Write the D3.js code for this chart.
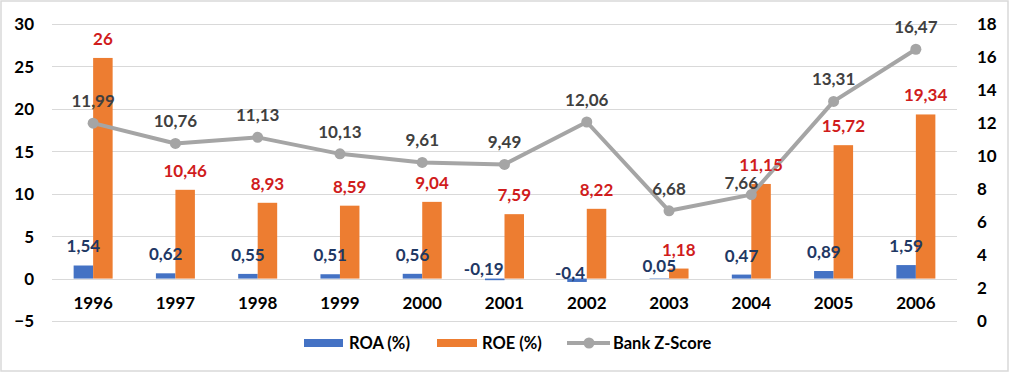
<!DOCTYPE html>
<html><head><meta charset="utf-8">
<script src="https://cdn.jsdelivr.net/npm/d3@7"></script>
<style>
html,body{margin:0;padding:0;background:#fff;}
svg text{font-family:Lato,"Open Sans",sans-serif;font-weight:700;}
</style></head>
<body><svg id="c" width="1010" height="374"></svg>
<script>
const years = ["1996","1997","1998","1999","2000","2001","2002","2003","2004","2005","2006"];
const roa = [1.54,0.62,0.55,0.51,0.56,-0.19,-0.4,0.05,0.47,0.89,1.59];
const roe = [26,10.46,8.93,8.59,9.04,7.59,8.22,1.18,11.15,15.72,19.34];
const zscore = [11.99,10.76,11.13,10.13,9.61,9.49,12.06,6.68,7.66,13.31,16.47];
const leftTicks = [-5,0,5,10,15,20,25,30];
const rightTicks = [0,2,4,6,8,10,12,14,16,18];
const seriesNames = ["ROA (%)","ROE (%)","Bank Z-Score"];

const colors = {roa:"#4472C4", roe:"#ED7D31", z:"#A5A5A5"};
const labelColors = {roa:"#1F3864", roe:"#D01C1C", z:"#404040"};
const fmt = v => String(v).replace(".", ",");

// manual label nudges seen in the reference (pixel offsets: [dx, distance above])
const roaLabelNudge = {"2001":[-11,10], "2002":[-7,6], "2003":[0,12]};
const zLabelNudge = {"2004":[-10,12]};

const svg = d3.select("#c");
const L = 52, R = 957, T = 24, B = 321;

svg.append("rect").attr("x",1).attr("y",1).attr("width",1007).attr("height",370)
  .attr("fill","#fff").attr("stroke","#D9D9D9").attr("stroke-width",1.5);

const yL = d3.scaleLinear().domain([-5,30]).range([B,T]);
const yR = d3.scaleLinear().domain([0,18]).range([B,T]);
const x0 = d3.scaleBand().domain(years).range([L,R]).paddingInner(0.526).paddingOuter(0.263);
const x1 = d3.scaleBand().domain(["roa","roe"]).range([0,x0.bandwidth()]);
const cx = d => x0(d) + x0.bandwidth()/2;

// gridlines
svg.append("g").selectAll("line").data(leftTicks).join("line")
  .attr("x1",L).attr("x2",R).attr("y1",d=>Math.round(yL(d))+0.5).attr("y2",d=>Math.round(yL(d))+0.5)
  .attr("stroke","#D9D9D9").attr("stroke-width",1);

function styleAxis(g, dy){
  g.select(".domain").remove();
  g.selectAll("text").attr("font-size",17).attr("fill","#000").attr("dy",dy)
    .style("font-family","Lato").style("font-weight",700);
}
const gL = svg.append("g").attr("transform","translate(34,0)")
  .call(d3.axisLeft(yL).tickValues(leftTicks).tickSize(0).tickPadding(0));
styleAxis(gL,"0.35em");
const gR = svg.append("g").attr("transform","translate(977,0)")
  .call(d3.axisRight(yR).tickValues(rightTicks).tickSize(0).tickPadding(0));
styleAxis(gR,"0.35em");
const gB = svg.append("g").attr("transform","translate(0,297)")
  .call(d3.axisBottom(x0).tickSize(0).tickPadding(0));
styleAxis(gB,"0.71em");

// bars
const roaBars = years.map((y,i)=>({y,v:roa[i]}));
const roeBars = years.map((y,i)=>({y,v:roe[i]}));
svg.append("g").selectAll("rect").data(roaBars).join("rect")
  .attr("x",d=>x0(d.y)+x1("roa")).attr("width",x1.bandwidth())
  .attr("y",d=>yL(Math.max(0,d.v))).attr("height",d=>Math.abs(yL(d.v)-yL(0)))
  .attr("fill",colors.roa);
svg.append("g").selectAll("rect").data(roeBars).join("rect")
  .attr("x",d=>x0(d.y)+x1("roe")).attr("width",x1.bandwidth())
  .attr("y",d=>yL(Math.max(0,d.v))).attr("height",d=>Math.abs(yL(d.v)-yL(0)))
  .attr("fill",colors.roe);

// line
const zPts = years.map((y,i)=>({y,v:zscore[i]}));
const line = d3.line().x(d=>cx(d.y)).y(d=>yR(d.v));
svg.append("path").datum(zPts).attr("d",line).attr("fill","none")
  .attr("stroke",colors.z).attr("stroke-width",4).attr("stroke-linejoin","round");
svg.append("g").selectAll("circle").data(zPts).join("circle")
  .attr("cx",d=>cx(d.y)).attr("cy",d=>yR(d.v)).attr("r",5.5).attr("fill",colors.z);

// labels
svg.append("g").selectAll("text").data(roaBars).join("text")
  .attr("x",d=>x0(d.y)+x1("roa")+x1.bandwidth()/2 + (roaLabelNudge[d.y]||[0,19])[0])
  .attr("y",d=>yL(Math.max(0,d.v)) - (roaLabelNudge[d.y]||[0,19])[1]).attr("dy","0.35em")
  .attr("text-anchor","middle").attr("font-size",17).attr("fill",labelColors.roa)
  .text(d=>fmt(d.v));
svg.append("g").selectAll("text").data(roeBars).join("text")
  .attr("x",d=>x0(d.y)+x1("roe")+x1.bandwidth()/2)
  .attr("y",d=>yL(d.v)-19).attr("dy","0.35em")
  .attr("text-anchor","middle").attr("font-size",17).attr("fill",labelColors.roe)
  .text(d=>fmt(d.v));
svg.append("g").selectAll("text").data(zPts).join("text")
  .attr("x",d=>cx(d.y) + (zLabelNudge[d.y]||[0,22])[0])
  .attr("y",d=>yR(d.v) - (zLabelNudge[d.y]||[0,22])[1]).attr("dy","0.35em")
  .attr("text-anchor","middle").attr("font-size",17).attr("fill",labelColors.z)
  .text(d=>fmt(d.v));

// legend
const lg = svg.append("g");
const ly = 343;
lg.append("rect").attr("x",304).attr("y",ly-4).attr("width",39).attr("height",8).attr("fill",colors.roa);
lg.append("text").attr("x",349).attr("y",ly).attr("dy","0.35em").attr("font-size",16.5).attr("fill","#000").text(seriesNames[0]);
lg.append("rect").attr("x",437).attr("y",ly-4).attr("width",40).attr("height",8).attr("fill",colors.roe);
lg.append("text").attr("x",482).attr("y",ly).attr("dy","0.35em").attr("font-size",16.5).attr("fill","#000").text(seriesNames[1]);
lg.append("line").attr("x1",567).attr("x2",610).attr("y1",ly).attr("y2",ly).attr("stroke",colors.z).attr("stroke-width",4);
lg.append("circle").attr("cx",589).attr("cy",ly).attr("r",5.5).attr("fill",colors.z);
lg.append("text").attr("x",613).attr("y",ly).attr("dy","0.35em").attr("font-size",16.5).attr("fill","#000").text(seriesNames[2]);
</script></body></html>
